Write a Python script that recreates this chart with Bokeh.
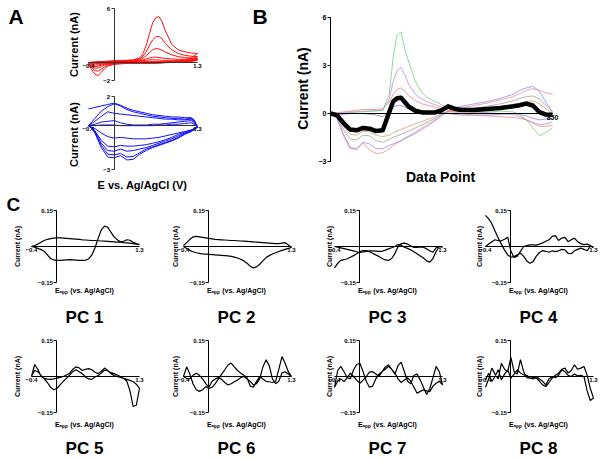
import math
from bokeh.plotting import figure
from bokeh.layouts import row, column
from bokeh.models import FixedTicker, Label, Range1d
from bokeh.embed import file_html
from bokeh.resources import INLINE

FONT = "Liberation Sans"

# ---------------- Panel A (top, red) ----------------
a1_e_fwd = [-0.4, -0.3, -0.2, -0.1, 0, 0.1, 0.2, 0.3, 0.4, 0.45, 0.5, 0.55, 0.6, 0.65, 0.7, 0.75, 0.8, 0.9, 1.0, 1.1, 1.2, 1.3]
a1_e_rev = [1.3, 1.2, 1.1, 1.0, 0.9, 0.8, 0.7, 0.6, 0.5, 0.4, 0.3, 0.2, 0.1, 0.0, -0.1, -0.15, -0.2, -0.25, -0.3, -0.35, -0.4]
a1_fwd = [
    [0.0, 0.05, 0.1, 0.15, 0.2, 0.22, 0.25, 0.3, 0.5, 1.0, 1.9, 3.2, 4.4, 5.0, 5.1, 4.5, 3.5, 2.0, 1.4, 1.2, 1.05, 1.0],
    [0.0, 0.05, 0.1, 0.12, 0.15, 0.18, 0.2, 0.25, 0.4, 0.7, 1.2, 1.9, 2.5, 2.85, 2.9, 2.6, 2.1, 1.4, 1.0, 0.8, 0.7, 0.65],
    [0.0, 0.0, 0.05, 0.1, 0.12, 0.15, 0.18, 0.2, 0.3, 0.5, 0.75, 1.1, 1.4, 1.55, 1.5, 1.35, 1.15, 0.85, 0.65, 0.55, 0.5, 0.45],
    [0.0, 0.0, 0.0, 0.05, 0.1, 0.1, 0.12, 0.15, 0.2, 0.3, 0.4, 0.5, 0.58, 0.6, 0.55, 0.5, 0.45, 0.4, 0.35, 0.35, 0.4, 0.45],
    [0.0, -0.05, 0.0, 0.05, 0.05, 0.08, 0.1, 0.1, 0.15, 0.2, 0.25, 0.3, 0.3, 0.3, 0.28, 0.25, 0.22, 0.2, 0.2, 0.25, 0.3, 0.35],
    [0.0, -0.05, -0.05, 0.0, 0.0, 0.02, 0.05, 0.05, 0.08, 0.1, 0.1, 0.12, 0.12, 0.12, 0.1, 0.1, 0.1, 0.1, 0.12, 0.15, 0.2, 0.25],
]
a1_rev = [
    [1.0, 0.5, 0.3, 0.2, 0.1, 0.05, 0.0, -0.05, -0.1, -0.1, -0.1, -0.1, -0.15, -0.2, -0.4, -0.7, -1.1, -1.45, -1.3, -0.8, -0.2],
    [0.65, 0.3, 0.2, 0.1, 0.05, 0.0, -0.05, -0.05, -0.1, -0.1, -0.1, -0.1, -0.12, -0.15, -0.3, -0.5, -0.75, -0.95, -0.9, -0.6, -0.15],
    [0.45, 0.2, 0.1, 0.05, 0.0, 0.0, -0.05, -0.05, -0.05, -0.08, -0.1, -0.1, -0.1, -0.12, -0.2, -0.3, -0.45, -0.6, -0.65, -0.45, -0.1],
    [0.45, 0.2, 0.1, 0.05, 0.0, 0.0, 0.0, -0.05, -0.05, -0.05, -0.05, -0.08, -0.1, -0.1, -0.15, -0.2, -0.3, -0.4, -0.45, -0.35, -0.1],
    [0.35, 0.15, 0.05, 0.0, 0.0, -0.02, -0.02, -0.05, -0.05, -0.05, -0.05, -0.05, -0.08, -0.08, -0.1, -0.15, -0.2, -0.25, -0.3, -0.25, -0.05],
    [0.25, 0.1, 0.05, 0.0, 0.0, 0.0, -0.02, -0.02, -0.02, -0.02, -0.03, -0.03, -0.05, -0.05, -0.05, -0.08, -0.1, -0.12, -0.15, -0.12, -0.03],
]

# ---------------- Panel A (bottom, blue) ----------------
a2_e_fwd = [-0.4, -0.3, -0.2, -0.1, 0, 0.1, 0.2, 0.3, 0.4, 0.5, 0.6, 0.7, 0.8, 0.9, 1.0, 1.1, 1.2, 1.25, 1.3]
a2_e_rev = [1.3, 1.25, 1.2, 1.1, 1.0, 0.9, 0.8, 0.7, 0.6, 0.5, 0.4, 0.3, 0.2, 0.1, 0.0, -0.1, -0.2, -0.3, -0.35, -0.4]
a2_fwd = [
    [1.15, 1.25, 1.35, 1.45, 1.55, 1.4, 1.2, 1.05, 0.95, 0.85, 0.75, 0.7, 0.65, 0.6, 0.6, 0.55, 0.55, 0.4, -0.1],
    [0.0, 0.5, 1.0, 1.3, 1.5, 1.35, 1.1, 0.95, 0.85, 0.75, 0.65, 0.6, 0.55, 0.5, 0.5, 0.45, 0.5, 0.3, -0.1],
    [0.0, 0.3, 0.65, 0.95, 0.85, 0.8, 0.75, 0.7, 0.65, 0.6, 0.55, 0.5, 0.45, 0.45, 0.4, 0.4, 0.45, 0.3, -0.1],
    [0.0, 0.1, 0.25, 0.3, 0.35, 0.2, 0.1, 0.05, 0.05, 0.05, 0.1, 0.1, 0.15, 0.2, 0.25, 0.3, 0.35, 0.2, -0.1],
    [0.0, 0.0, 0.05, 0.05, 0.05, 0.0, 0.0, 0.0, 0.0, 0.0, 0.0, 0.05, 0.05, 0.1, 0.1, 0.15, 0.2, 0.1, -0.1],
]
a2_rev = [
    [-0.1, -0.25, -0.4, -0.6, -0.85, -1.05, -1.2, -1.35, -1.5, -1.7, -1.95, -2.3, -2.35, -2.05, -2.2, -2.15, -1.5, -0.5, -0.2, 0.0],
    [-0.1, -0.25, -0.4, -0.55, -0.8, -1.0, -1.15, -1.3, -1.45, -1.6, -1.85, -2.1, -2.15, -1.9, -2.0, -1.95, -1.35, -0.45, -0.2, 0.0],
    [-0.1, -0.2, -0.35, -0.5, -0.7, -0.9, -1.05, -1.2, -1.35, -1.5, -1.6, -1.7, -1.75, -1.6, -1.75, -1.7, -1.2, -0.4, -0.15, 0.0],
    [-0.1, -0.2, -0.3, -0.45, -0.6, -0.8, -0.95, -1.1, -1.2, -1.3, -1.35, -1.4, -1.4, -1.35, -1.45, -1.4, -1.0, -0.35, -0.15, 0.0],
    [-0.1, -0.2, -0.3, -0.4, -0.5, -0.6, -0.7, -0.8, -0.85, -0.9, -0.9, -0.9, -0.85, -0.8, -0.85, -0.75, -0.5, -0.2, -0.1, 0.0],
]

# ---------------- Panel B ----------------
b_points = [0, 25, 50, 75, 100, 125, 150, 175, 200, 225, 240, 255, 270, 285, 300, 325, 350, 375,
            400, 425, 450, 475, 500, 550, 600, 650, 700, 725, 750, 775, 800, 825, 850]
b_green = [0, 0.0, 0.0, 0.05, 0.1, 0.1, 0.15, 0.15, 0.2, 1.2, 3.5, 4.9, 5.1, 4.0, 3.2, 2.0, 1.3, 0.95,
           0.75, 0.55, 0.35, 0.25, 0.15, 0.1, 0.1, 0.15, 0.1, -0.1, -0.4, -0.9, -1.4, -1.2, -0.9]
b_violet = [0, 0, 0.05, 0.1, 0.1, 0.15, 0.15, 0.2, 0.2, 0.9, 2.0, 2.7, 2.9, 2.4, 1.8, 1.2, 0.9, 0.7,
            0.55, 0.4, 0.3, 0.2, 0.15, 0.1, 0.05, 0.0, -0.05, -0.2, -0.4, -0.55, -0.7, -0.65, -0.55]
b_salmon = [0, 0.05, 0.1, 0.15, 0.2, 0.25, 0.25, 0.25, 0.3, 0.7, 1.2, 1.5, 1.6, 1.4, 1.1, 0.8, 0.6, 0.5,
            0.4, 0.3, 0.2, 0.1, 0.0, -0.1, -0.15, -0.2, -0.25, -0.3, -0.4, -0.6, -0.8, -0.8, -0.75]
b_blue = [0, -0.05, -0.05, 0.0, 0.0, 0.0, -0.05, -0.1, -0.2, 0.1, 0.4, 0.5, 0.5, 0.4, 0.3, 0.2, 0.15, 0.1,
          0.1, 0.05, 0.0, -0.05, -0.1, -0.1, -0.1, -0.05, 0.0, -0.05, -0.15, -0.3, -0.4, -0.35, -0.3]
b_lav = [0, -0.3, -1.3, -2.1, -2.2, -1.8, -1.9, -2.2, -2.2, -2.0, -1.9, -1.8, -1.7, -1.55, -1.45, -1.25, -1.0, -0.75,
         -0.45, -0.15, 0.15, 0.35, 0.45, 0.6, 0.75, 0.95, 1.2, 1.45, 1.6, 1.7, 1.4, 0.7, 0.1]
b_pink = [0, -0.3, -1.4, -2.2, -2.25, -1.85, -2.3, -2.5, -2.45, -2.2, -2.0, -1.85, -1.7, -1.55, -1.4, -1.15, -0.9, -0.65,
          -0.4, -0.1, 0.1, 0.25, 0.35, 0.5, 0.65, 0.85, 1.05, 1.25, 1.45, 1.55, 1.45, 1.3, 1.2]
b_gray = [0, -0.25, -1.0, -1.6, -1.65, -1.35, -1.4, -1.7, -1.8, -1.6, -1.5, -1.4, -1.3, -1.2, -1.1, -0.9, -0.7, -0.5,
          -0.3, -0.05, 0.15, 0.2, 0.25, 0.35, 0.45, 0.6, 0.8, 0.95, 1.05, 1.1, 0.9, 0.5, 0.1]
b_tan = [0, -0.2, -0.8, -1.3, -1.35, -1.1, -1.15, -1.35, -1.45, -1.35, -1.2, -1.1, -1.0, -0.9, -0.8, -0.65, -0.5, -0.35,
         -0.2, 0.0, 0.1, 0.1, 0.15, 0.2, 0.3, 0.4, 0.55, 0.65, 0.75, 0.8, 0.6, 0.3, 0.0]
b_mean = [0, -0.1, -0.6, -1.0, -1.05, -0.9, -0.95, -1.1, -1.05, 0.1, 0.75, 0.95, 0.98, 0.7, 0.42, 0.17, 0.07, 0.06,
          0.07, 0.2, 0.45, 0.3, 0.22, 0.22, 0.28, 0.35, 0.45, 0.52, 0.62, 0.5, 0.08, -0.07, -0.08]
b_series = [(b_tan, "#cc9966"), (b_gray, "#999999"), (b_pink, "#ee8888"), (b_lav, "#8888ee"),
            (b_blue, "#7f7fe6"), (b_salmon, "#f08080"), (b_violet, "#c080e0"), (b_green, "#70c870")]

# ---------------- Panel C (principal components) ----------------
pc_e = [-0.4, -0.35, -0.3, -0.25, -0.2, -0.15, -0.1, -0.05, 0.0, 0.05, 0.1, 0.15, 0.2, 0.25, 0.3, 0.35, 0.4,
        0.45, 0.5, 0.55, 0.6, 0.65, 0.7, 0.75, 0.8, 0.85, 0.9, 0.95, 1.0, 1.05, 1.1, 1.15, 1.2, 1.25, 1.3]
pc1_fwd = [0.0, -0.003, -0.008, -0.013, -0.02, -0.035, -0.05, -0.056, -0.058, -0.058, -0.057, -0.056, -0.055, -0.056, -0.057, -0.058, -0.058, -0.057, -0.052, -0.035, -0.005, 0.035, 0.07, 0.085, 0.08, 0.06, 0.04, 0.028, 0.02, 0.022, 0.028, 0.026, 0.018, 0.012, 0.008]
pc1_rev = [0.008, 0.01, 0.012, 0.014, 0.015, 0.016, 0.018, 0.018, 0.019, 0.02, 0.021, 0.022, 0.023, 0.024, 0.025, 0.025, 0.026, 0.027, 0.028, 0.03, 0.031, 0.032, 0.033, 0.034, 0.035, 0.036, 0.036, 0.035, 0.033, 0.03, 0.025, 0.018, 0.01, 0.004, 0.0]
pc2_fwd = [0.0, -0.008, -0.016, -0.022, -0.026, -0.029, -0.031, -0.032, -0.033, -0.034, -0.035, -0.036, -0.037, -0.038, -0.039, -0.041, -0.044, -0.048, -0.053, -0.06, -0.07, -0.082, -0.089, -0.085, -0.074, -0.06, -0.046, -0.038, -0.031, -0.026, -0.021, -0.016, -0.012, -0.008, -0.004]
pc2_rev = [-0.004, 0.006, 0.016, 0.014, 0.012, 0.012, 0.013, 0.014, 0.015, 0.016, 0.017, 0.018, 0.019, 0.02, 0.021, 0.022, 0.023, 0.024, 0.025, 0.025, 0.026, 0.027, 0.028, 0.029, 0.03, 0.032, 0.034, 0.036, 0.038, 0.04, 0.042, 0.04, 0.03, 0.016, 0.004]
pc3_fwd = [-0.089, -0.07, -0.058, -0.055, -0.051, -0.045, -0.038, -0.03, -0.021, -0.017, -0.017, -0.022, -0.028, -0.035, -0.042, -0.05, -0.056, -0.058, -0.05, -0.03, 0.0, 0.012, 0.014, 0.01, 0.002, -0.004, -0.004, -0.002, -0.003, -0.01, -0.018, -0.024, -0.005, 0.0, -0.004]
pc3_rev = [-0.004, 0.0, -0.02, -0.05, -0.065, -0.06, -0.048, -0.04, -0.03, -0.022, -0.014, -0.008, -0.003, 0.006, 0.008, 0.0, -0.005, -0.01, -0.015, -0.02, -0.02, -0.019, -0.018, -0.018, -0.02, -0.023, -0.025, -0.022, -0.018, -0.015, -0.012, -0.009, -0.006, -0.003, 0.0]
pc4_fwd = [0.13, 0.115, 0.095, 0.065, 0.035, 0.01, -0.015, -0.035, -0.044, -0.042, -0.035, -0.028, -0.04, -0.06, -0.07, -0.063, -0.04, -0.025, -0.017, -0.02, -0.024, -0.018, -0.021, -0.018, -0.012, -0.014, -0.028, -0.03, -0.018, -0.012, -0.007, -0.012, -0.018, 0.002, -0.005]
pc4_rev = [-0.005, 0.004, 0.01, 0.008, 0.012, 0.02, 0.035, 0.028, 0.02, 0.038, 0.035, 0.025, 0.045, 0.042, 0.028, 0.022, 0.015, 0.01, 0.006, 0.007, 0.007, 0.004, 0.0, -0.02, -0.04, -0.046, -0.02, 0.038, 0.03, 0.024, 0.024, 0.028, 0.02, 0.01, 0.0]
pc5_fwd = [0.0, 0.05, 0.03, 0.0, -0.008, -0.011, -0.012, -0.01, -0.007, -0.004, 0.0, 0.006, 0.014, 0.03, 0.04, 0.036, 0.025, 0.03, 0.033, 0.028, 0.018, 0.012, 0.022, 0.035, 0.025, 0.012, 0.004, 0.0, -0.004, -0.008, -0.012, -0.016, -0.022, -0.032, -0.049]
pc5_rev = [-0.049, -0.12, -0.125, -0.06, -0.02, -0.008, 0.0, 0.006, 0.012, 0.016, 0.024, 0.026, 0.014, 0.004, -0.002, -0.012, -0.01, -0.002, 0.012, 0.02, 0.028, 0.02, 0.006, -0.008, -0.02, -0.035, -0.05, -0.055, -0.045, -0.025, -0.01, 0.005, 0.02, 0.025, 0.0]
pc6_fwd = [0.0, 0.04, 0.01, -0.03, -0.055, -0.062, -0.055, -0.042, -0.05, -0.045, -0.03, -0.01, 0.01, 0.028, 0.048, 0.056, 0.04, 0.025, 0.014, 0.005, -0.005, -0.04, -0.045, -0.02, 0.0, -0.01, -0.02, -0.022, -0.025, -0.02, 0.03, 0.083, 0.055, 0.02, 0.0]
pc6_rev = [0.0, 0.01, 0.02, 0.015, -0.02, -0.03, -0.01, 0.045, 0.07, 0.04, -0.01, -0.03, -0.035, -0.02, -0.01, 0.0, -0.005, -0.015, -0.022, -0.03, -0.035, -0.025, -0.012, -0.004, -0.01, -0.02, -0.045, -0.03, -0.01, 0.005, 0.014, 0.005, -0.01, -0.008, 0.0]
pc7_fwd = [-0.045, 0.025, 0.042, 0.02, -0.005, -0.01, 0.028, 0.05, 0.055, 0.02, -0.02, -0.045, -0.04, -0.01, 0.01, 0.021, 0.03, 0.042, 0.03, 0.01, 0.045, 0.06, 0.02, -0.02, -0.03, 0.005, 0.01, -0.015, -0.045, -0.075, -0.05, -0.005, 0.042, 0.02, -0.035]
pc7_rev = [-0.035, -0.02, -0.028, -0.04, -0.063, -0.06, -0.056, -0.062, -0.07, -0.045, -0.02, -0.005, -0.015, -0.025, -0.01, 0.015, 0.03, 0.049, 0.04, 0.02, 0.0, 0.01, 0.02, 0.018, 0.0, -0.015, -0.028, -0.015, 0.0, 0.014, -0.005, -0.021, -0.01, -0.02, -0.045]
pc8_fwd = [-0.045, -0.01, 0.035, 0.01, -0.01, 0.055, 0.03, 0.02, 0.08, 0.02, 0.01, 0.07, 0.02, -0.005, -0.007, -0.005, -0.007, -0.02, -0.035, -0.042, -0.025, -0.007, 0.005, 0.014, 0.03, 0.035, 0.015, 0.025, 0.049, 0.03, 0.035, 0.042, 0.005, -0.05, -0.09]
pc8_rev = [-0.09, -0.1, -0.06, 0.0, 0.005, 0.003, 0.01, 0.0, 0.005, 0.02, 0.028, 0.005, -0.005, 0.0, -0.01, -0.035, -0.02, -0.01, 0.0, -0.01, -0.005, 0.005, 0.007, 0.015, 0.028, 0.01, -0.007, 0.028, 0.01, -0.014, 0.028, 0.0, -0.021, 0.013, -0.015]
pc_titles = ["PC 1", "PC 2", "PC 3", "PC 4", "PC 5", "PC 6", "PC 7", "PC 8"]
pc_curves = [(pc1_fwd, pc1_rev), (pc2_fwd, pc2_rev), (pc3_fwd, pc3_rev), (pc4_fwd, pc4_rev),
             (pc5_fwd, pc5_rev), (pc6_fwd, pc6_rev), (pc7_fwd, pc7_rev), (pc8_fwd, pc8_rev)]


def make_fig(w, h, bl, br, bt, bb, xlim, ylim):
    """The whole canvas is the frame; the ranges are widened so that the
    plotted region (xlim, ylim) lands bl/br/bt/bb pixels inside the edges."""
    fw = w - bl - br
    fh = h - bt - bb
    sx = (xlim[1] - xlim[0]) / fw
    sy = (ylim[1] - ylim[0]) / fh
    xr = Range1d(xlim[0] - bl * sx, xlim[1] + br * sx)
    yr = Range1d(ylim[0] - bb * sy, ylim[1] + bt * sy)
    p = figure(width=w, height=h, x_range=xr, y_range=yr,
               output_backend="svg", toolbar_location=None, min_border=0)
    p.outline_line_color = None
    p.grid.visible = False
    p.background_fill_color = "white"
    p.border_fill_color = "white"
    return p


def style_axes(p, xlim, ylim, xticks, yticks, color, fsize, ytick_out=3):
    xa = p.xaxis[0]
    ya = p.yaxis[0]
    xa.fixed_location = 0
    ya.fixed_location = 0
    xa.bounds = xlim
    ya.bounds = ylim
    xa.ticker = FixedTicker(ticks=xticks, minor_ticks=[])
    ya.ticker = FixedTicker(ticks=yticks, minor_ticks=[])
    for ax in (xa, ya):
        ax.axis_line_color = color
        ax.axis_line_width = 1
        ax.major_tick_line_color = color
        ax.minor_tick_line_color = None
        ax.major_tick_in = 0
        ax.major_label_text_font = FONT
        ax.major_label_text_font_size = f"{fsize}px"
        ax.major_label_text_font_style = "bold"
        ax.major_label_text_color = "black"
        ax.major_label_standoff = 1
    xa.major_tick_out = 0
    ya.major_tick_out = ytick_out


def add_text(p, text, x, y, size, angle=0.0, align="center", baseline="middle"):
    p.add_layout(Label(x=x, y=y, x_units="screen", y_units="screen", text=text, angle=angle,
                       text_align=align, text_baseline=baseline, text_font=FONT,
                       text_font_size=f"{size}px", text_font_style="bold", text_color="black"))


CV_X = (-0.4, 1.3)

# ---- A top ----
pa1 = make_fig(248, 91, 88, 51, 8, 11, CV_X, (-2, 6))
style_axes(pa1, CV_X, (-2, 6), [-0.4, 1.3], [-2, 6], "#333333", 6)
for f, r in zip(a1_fwd, a1_rev):
    pa1.line(a1_e_fwd + a1_e_rev, f + r, line_color="#ff1010", line_width=1)
add_text(pa1, "A", 8, 87, 21, align="left", baseline="top")
add_text(pa1, "Current (nA)", 73, 47, 11, angle=math.pi / 2)

# ---- A bottom ----
pa2 = make_fig(248, 102, 88, 51, 5, 24, CV_X, (-3, 2))
style_axes(pa2, CV_X, (-3, 2), [-0.4, 1.3], [-3, 2], "#333333", 6)
for f, r in zip(a2_fwd, a2_rev):
    pa2.line(a2_e_fwd + a2_e_rev, f + r, line_color="#1010ff", line_width=1)
add_text(pa2, "Current (nA)", 73, 59, 11, angle=math.pi / 2)
add_text(pa2, "E vs. Ag/AgCl (V)", 142, 9, 11)

# ---- B ----
pb = make_fig(356, 193, 82, 52, 17, 32, (0, 850), (-3, 6))
style_axes(pb, (0, 850), (-3, 6), [850], [-3, 0, 3, 6], "black", 7)
for ys, col in b_series:
    pb.line(b_points, ys, line_color=col, line_width=1, line_alpha=0.75)
pb.line(b_points, b_mean, line_color="black", line_width=4.5, line_join="round")
add_text(pb, "B", 4, 189, 21, align="left", baseline="top")
add_text(pb, "Current (nA)", 54, 105, 14, angle=math.pi / 2)
add_text(pb, "Data Point", 192, 17, 14)

# ---- C ----
widths = [158, 150, 150, 146]
lefts = [31, 25, 26, 27]
ylab_x = [17, 17, 21, 21]
pc_figs = []
for i, (f, r) in enumerate(pc_curves):
    col_i = i % 4
    row_i = i // 4
    w = widths[col_i]
    bl = lefts[col_i]
    br = w - bl - 108
    if row_i == 0:
        h, bt, bb, y_e, y_t = 132, 17, 43, 35, 8.5
    else:
        h, bt, bb, y_e, y_t = 134, 15, 47, 35, 11.5
    p = make_fig(w, h, bl, br, bt, bb, CV_X, (-0.15, 0.15))
    style_axes(p, CV_X, (-0.15, 0.15), [-0.4, 1.3], [-0.15, 0.15], "black", 6)
    p.line(pc_e + pc_e[::-1], f + r, line_color="black", line_width=1.2)
    add_text(p, "Current (nA)", ylab_x[col_i], bb + 36, 7, angle=math.pi / 2)
    add_text(p, "E\u2090\u209a\u209a (vs. Ag/AgCl)", bl + 53, y_e, 7)
    add_text(p, pc_titles[i], bl + 53, y_t, 17)
    if i == 0:
        add_text(p, "C", 6, h, 19, align="left", baseline="top")
    pc_figs.append(p)

layout = column(
    row(column(pa1, pa2), pb),
    row(*pc_figs[:4]),
    row(*pc_figs[4:]),
)

open("out.html", "w").write(file_html(layout, INLINE))
